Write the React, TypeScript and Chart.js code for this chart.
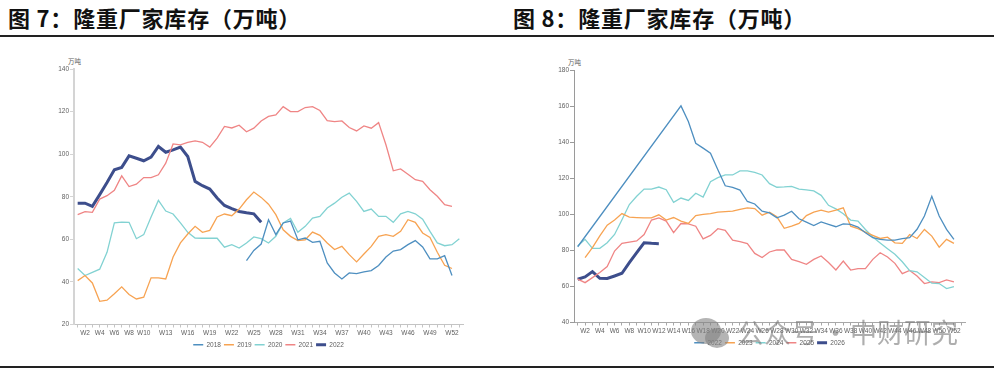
import React, { useEffect, useRef } from "react";
import { Chart, registerables } from "chart.js";

Chart.register(...registerables);

const weeks = [
  "W1","W2","W3","W4","W5","W6","W7","W8","W9","W10",
  "W11","W12","W13","W14","W15","W16","W17","W18","W19","W20",
  "W21","W22","W23","W24","W25","W26","W27","W28","W29","W30",
  "W31","W32","W33","W34","W35","W36","W37","W38","W39","W40",
  "W41","W42","W43","W44","W45","W46","W47","W48","W49","W50",
  "W51","W52","W53",
];

const leftShownTicks = ["W2","W4","W6","W8","W10","W13","W16","W19","W22","W25","W28","W31","W34","W37","W40","W43","W46","W49","W52"];
const rightShownTicks = ["W2","W4","W6","W8","W10","W12","W14","W16","W18","W20","W22","W24","W26","W28","W30","W32","W34","W36","W38","W40","W42","W44","W46","W48","W50","W52"];

const N = null;

// 图7 series
const s2018 = [N,N,N,N,N,N,N,N,N,N,N,N,N,N,N,N,N,N,N,N,N,N,N,
  50,54.8,57.8,69.2,62.2,67.7,68.6,59.8,60.6,58.6,59.1,48.9,44.2,41.4,44.2,43.9,44.7,45.3,47.7,51.7,54.5,55.2,57.5,59.4,56.4,50.8,50.8,52.3,43,N];
const s2019 = [40.6,43,39.5,30.9,31.4,34.4,37.7,34.1,32,32.8,
  41.9,41.9,41.4,51.7,58.3,62.5,66.1,63.3,64.2,70.5,
  71.9,71.1,74.2,78.6,82.2,79.7,76.5,71.6,64.5,61.4,
  59.4,59.8,63.4,61.9,58.3,55.2,56.7,52.8,49.4,53.1,
  56.7,61.4,62.2,61.4,63.8,69.2,68,63,60.9,53.9,
  47.8,46.3,N];
const s2020 = [46.3,43,44.5,46,53.9,67.7,68.1,68,60.3,62.2,
  70.5,78.3,73.3,71.9,67.7,63.3,60.6,60.5,60.5,60.5,
  56.3,57.5,55.9,58.3,61.1,60.3,58.3,61.4,67.7,69.8,
  63.3,66.1,70,70.8,74.7,77,79.8,81.7,77.8,73.1,
  74.2,70.8,70.8,68,72,73.1,72,69.5,63.7,58.3,
  57,57.5,60.3];
const s2021 = [71.6,73,72.7,78.9,80.5,83,89.8,84.8,85.9,89,
  89,90.3,95.8,104.8,104.4,105.5,106.2,105.6,103.3,107.5,
  113,112.3,113.6,110.5,112.2,115.6,117.7,118.4,122.3,120,
  120,121.9,122.3,120.5,115.8,115.3,115.6,112.5,110.9,113.3,
  112.2,114.8,104.4,92.2,93.1,90.6,88,87.2,83.3,80.2,
  76.3,75.5,N];
const s2022a = [77,77,75.5,81,86.7,92.7,93.8,99.2,98.1,96.9,
  98.6,103.6,100.9,102,103.3,98.9,87.2,85.2,83.6,79.4,
  75.9,74.4,73.1,72.5,72,68];

// 图8 series
const s2022b = [82,N,N,N,N,N,N,N,N,N,N,N,N,N,
  160.1,151.4,139.4,136.7,133.9,124.7,
  115.8,114.9,113.4,107.1,105.7,101.7,100.8,98,99.5,101.7,
  97.5,95.7,93.8,95.8,94.4,93.1,94.7,94.4,92.9,89.8,
  87,86.1,85.7,85.7,86.5,87,91.7,99,110,99,
  91.6,86.1,N];
const s2023 = [N,76,81.5,88,94,96.8,100.4,98.4,98.2,98,
  98,99.7,96.8,98.2,96.2,94.9,99.3,99.9,100.4,101.2,
  101.5,101.7,102.7,103.6,103.2,99.5,101.2,98.6,92.2,93.4,
  94.9,99.3,101.2,102.3,101.2,102.3,103.6,93.4,92,90.1,
  88.3,86.6,87.3,84.2,83.9,88.8,86.6,91.6,87.9,81.8,
  86.1,83.9,N];
const s2024 = [82.4,86.1,81.1,81.1,84.2,88.8,97,105.4,110,114,
  114,115.1,113.6,106.6,109,107.7,111.7,109.5,118.1,120.3,
  121.8,121.8,124.1,124.1,123.2,121.8,117,115,115.2,115.5,
  114,113.5,113,110.5,105,103,100.3,96.8,96.2,91.6,
  87.4,84.1,80.9,77.8,73.7,68.8,68.1,64.9,61.8,61.6,
  58.8,59.9,N];
const s2025 = [64,62.1,64.9,67.7,71,79.6,83.9,84.6,85.2,88.8,
  96.8,98,96.2,89.8,94.9,94.7,93.4,86.4,88.3,92,
  91.1,85.7,84.8,83.7,78.3,76,79.1,80.2,80.2,75,
  73.7,72.3,75,76.9,73.3,69.1,74.1,69.1,69.9,69.9,
  75,78.7,76.3,72.8,67.1,68.9,65.8,61.6,62.5,62.1,
  63.6,62.5,N];
const s2026 = [64,65.3,68.2,64.5,64.4,65.8,67.3,73.2,78.7,84.2,83.9,83.7];

const BLUE = "#4e8fc0";
const ORANGE = "#f7a352";
const CYAN = "#82d2d2";
const PINK = "#ef8585";
const NAVY = "#3d4e8c";

const FONT = "'Liberation Sans', Arial, sans-serif";
const TXT = "#5f5f5f";

function buildOptions(p: {
  min: number; max: number; shown: string[]; padTop: number; padRight: number; padBottom: number;
  yAxisColor: string; yAxisWidth: number; xAxisColor: string;
}) {
  return {
    responsive: false,
    animation: false as const,
    devicePixelRatio: 1,
    layout: { padding: { left: 0, right: p.padRight, top: p.padTop, bottom: p.padBottom } },
    elements: { point: { radius: 0, hoverRadius: 0 }, line: { tension: 0 } },
    plugins: {
      tooltip: { enabled: false },
      legend: {
        position: "bottom" as const,
        fullSize: false,
        labels: {
          usePointStyle: true,
          pointStyle: "line",
          pointStyleWidth: 10,
          padding: 3,
          color: TXT,
          font: { size: 6.5, family: FONT },
        },
      },
    },
    scales: {
      x: {
        offset: true,
        grid: { display: true, drawOnChartArea: false, drawTicks: true, tickLength: 3, color: p.xAxisColor, offset: false },
        border: { display: true, color: p.xAxisColor, width: 1 },
        ticks: {
          autoSkip: false, maxRotation: 0, minRotation: 0, padding: 2,
          color: TXT, font: { size: 6.5, family: FONT },
          callback: (_v: any, i: number) => (p.shown.includes(weeks[i]) ? weeks[i] : ""),
        },
        afterFit: (s: any) => { s.height = 14; },
      },
      y: {
        min: p.min, max: p.max,
        grid: { display: true, drawOnChartArea: false, drawTicks: true, tickLength: 4, color: p.yAxisColor },
        border: { display: true, color: p.yAxisColor, width: p.yAxisWidth },
        ticks: { stepSize: 20, padding: 1, color: TXT, font: { size: 6.5, family: FONT } },
        afterFit: (s: any) => { s.width = 44; },
      },
    },
  };
}

function ds(label: string, data: (number | null)[], color: string, width = 1.3, span = false) {
  return { label, data, borderColor: color, backgroundColor: color, borderWidth: width, pointRadius: 0, spanGaps: span, fill: false };
}

export default function App() {
  const leftRef = useRef<HTMLCanvasElement>(null);
  const rightRef = useRef<HTMLCanvasElement>(null);

  useEffect(() => {
    document.body.style.margin = "0";
    const c1 = new Chart(leftRef.current!, {
      type: "line",
      data: {
        labels: weeks,
        datasets: [
          ds("2018", s2018, BLUE),
          ds("2019", s2019, ORANGE),
          ds("2020", s2020, CYAN),
          ds("2021", s2021, PINK),
          ds("2022", s2022a, NAVY, 3),
        ],
      },
      options: buildOptions({ min: 20, max: 140, shown: leftShownTicks, padTop: 14, padRight: 43, padBottom: 2, yAxisColor: "#d4d4d4", yAxisWidth: 2, xAxisColor: "#c4c4c4" }) as any,
    });
    const c2 = new Chart(rightRef.current!, {
      type: "line",
      data: {
        labels: weeks,
        datasets: [
          ds("2022", s2022b, BLUE, 1.3, true),
          ds("2023", s2023, ORANGE),
          ds("2024", s2024, CYAN),
          ds("2025", s2025, PINK),
          ds("2026", s2026, NAVY, 3),
        ],
      },
      options: buildOptions({ min: 40, max: 180, shown: rightShownTicks, padTop: 15, padRight: 15, padBottom: 4, yAxisColor: "#9a9a9a", yAxisWidth: 1, xAxisColor: "#a8a8a8" }) as any,
    });
    return () => { c1.destroy(); c2.destroy(); };
  }, []);

  const titleStyle: React.CSSProperties = {
    position: "absolute", top: 5, fontFamily: "'Noto Sans CJK SC', sans-serif", fontWeight: 700,
    fontSize: 22, lineHeight: "24px", letterSpacing: 0.8, color: "#111", whiteSpace: "nowrap",
  };
  const unitStyle: React.CSSProperties = {
    position: "absolute", fontFamily: "'Noto Sans CJK SC', sans-serif", fontSize: 6.5, color: TXT, lineHeight: "8px",
  };
  const wmStyle: React.CSSProperties = {
    position: "absolute", top: 315, fontFamily: "'Noto Sans CJK SC', sans-serif", fontWeight: 400,
    fontSize: 27, lineHeight: "34px", color: "rgba(120,120,120,0.6)", whiteSpace: "nowrap",
  };

  return (
    <div style={{ position: "fixed", left: 0, top: 0, width: 994, height: 374, background: "#fff", overflow: "hidden" }}>
      <div style={{ ...titleStyle, left: 8 }}>图 7：隆重厂家库存（万吨）</div>
      <div style={{ ...titleStyle, left: 513 }}>图 8：隆重厂家库存（万吨）</div>
      <div style={{ position: "absolute", left: 0, top: 35, width: 994, height: 2, background: "#222" }} />
      <div style={{ ...unitStyle, left: 68, top: 57 }}>万吨</div>
      <div style={{ ...unitStyle, left: 568, top: 58 }}>万吨</div>
      <canvas ref={leftRef} width={476} height={305} style={{ position: "absolute", left: 30, top: 55 }} />
      <canvas ref={rightRef} width={450} height={305} style={{ position: "absolute", left: 530, top: 55 }} />
      <div style={{ position: "absolute", left: 0, top: 366, width: 994, height: 2, background: "#222" }} />
      <div style={{ position: "absolute", left: 691, top: 318, width: 30, height: 26, borderRadius: "50%", background: "rgba(130,130,130,0.6)" }} />
      <div style={{ position: "absolute", left: 705, top: 328, width: 24, height: 20, borderRadius: "50%", background: "rgba(130,130,130,0.6)" }} />
      <div style={{ ...wmStyle, left: 737 }}>公众号</div>
      <div style={{ ...wmStyle, left: 822 }}>·</div>
      <div style={{ ...wmStyle, left: 850 }}>中财研究</div>
    </div>
  );
}
